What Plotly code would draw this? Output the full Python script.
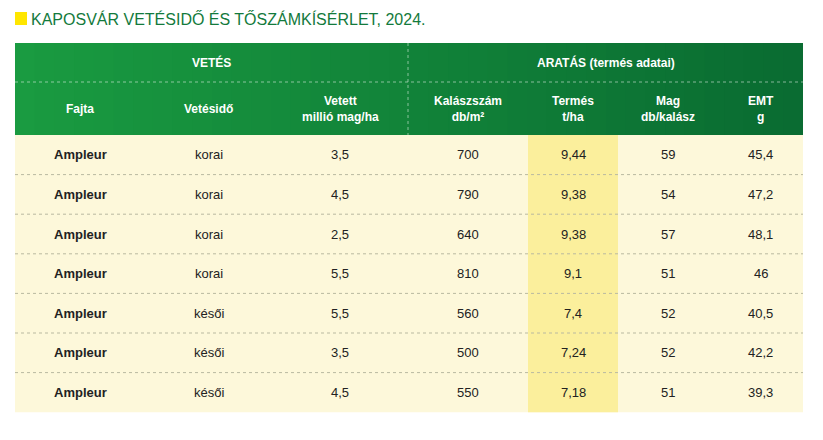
import plotly.graph_objects as go

title = "KAPOSVÁR VETÉSIDŐ ÉS TŐSZÁMKÍSÉRLET, 2024."
groups = ["VETÉS", "ARATÁS (termés adatai)"]
headers = ["Fajta", "Vetésidő", "Vetett<br>millió mag/ha", "Kalászszám<br>db/m²",
           "Termés<br>t/ha", "Mag<br>db/kalász", "EMT<br>g"]
fajta = ["Ampleur"] * 7
vetesido = ["korai", "korai", "korai", "korai", "késői", "késői", "késői"]
vetett = ["3,5", "4,5", "2,5", "5,5", "5,5", "3,5", "4,5"]
kalasz = ["700", "790", "640", "810", "560", "500", "550"]
termes = ["9,44", "9,38", "9,38", "9,1", "7,4", "7,24", "7,18"]
mag = ["59", "54", "57", "51", "52", "52", "51"]
emt = ["45,4", "47,2", "48,1", "46", "40,5", "42,2", "39,3"]

cols = [fajta, vetesido, vetett, kalasz, termes, mag, emt]
edges = [15, 145, 272, 408, 528, 618, 718, 803]
h0, h1, h2, rh = 43, 82, 135, 39.6
FONT = "Liberation Sans Narrow, Arial Narrow, sans-serif"

shapes, ann = [], []
# header gradient
n = 40
c0, c1 = (26, 155, 65), (10, 108, 50)
for i in range(n):
    t = i / (n - 1)
    col = tuple(int(c0[k] + (c1[k] - c0[k]) * t) for k in range(3))
    xa = edges[0] + (edges[-1] - edges[0]) * i / n
    xb = min(edges[-1], edges[0] + (edges[-1] - edges[0]) * (i + 1) / n + 1.5)
    shapes.append(dict(type="rect", x0=xa, x1=xb, y0=h0, y1=h2, line_width=0,
                       fillcolor=f"rgb{col}", layer="below"))
shapes.append(dict(type="line", x0=edges[0], x1=edges[-1], y0=h1, y1=h1,
                   line=dict(color="rgba(255,255,255,0.5)", width=1, dash="dot")))
shapes.append(dict(type="line", x0=408, x1=408, y0=h0, y1=h2,
                   line=dict(color="rgba(255,255,255,0.5)", width=1, dash="dot")))
# body
nrows = len(fajta)
ybot = h2 + rh * nrows
shapes.append(dict(type="rect", x0=edges[0], x1=edges[-1], y0=h2, y1=ybot,
                   line_width=0, fillcolor="#fdf8da", layer="below"))
shapes.append(dict(type="rect", x0=edges[4], x1=edges[5], y0=h2, y1=ybot,
                   line_width=0, fillcolor="#fbef9c", layer="below"))
for r in range(1, nrows):
    y = h2 + rh * r
    shapes.append(dict(type="line", x0=edges[0], x1=edges[-1], y0=y, y1=y,
                       line=dict(color="#b9b9a0", width=1, dash="dot")))

# title
shapes.append(dict(type="rect", x0=15, x1=27, y0=12, y1=25, line_width=0, fillcolor="#ffe600"))
ann.append(dict(x=29, y=19, text=title, xanchor="left", showarrow=False,
                font=dict(family=FONT, size=16, color="#137a3c")))

ann.append(dict(x=(edges[0] + edges[3]) / 2, y=(h0 + h1) / 2, text="<b>" + groups[0] + "</b>",
                showarrow=False, font=dict(family=FONT, size=12, color="white")))
ann.append(dict(x=(edges[3] + edges[-1]) / 2, y=(h0 + h1) / 2, text="<b>" + groups[1] + "</b>",
                showarrow=False, font=dict(family=FONT, size=12, color="white")))
for i, h in enumerate(headers):
    cx = (edges[i] + edges[i + 1]) / 2
    ann.append(dict(x=cx, y=(h1 + h2) / 2, text="<b>" + h + "</b>", showarrow=False,
                    font=dict(family=FONT, size=12, color="white")))
    for r, v in enumerate(cols[i]):
        txt = "<b>" + v + "</b>" if i == 0 else v
        ann.append(dict(x=cx, y=h2 + rh * (r + 0.5), text=txt, showarrow=False,
                        font=dict(family=FONT, size=13, color="#222")))

# the page shows the figure 8px in from the top-left corner; shift the view to compensate
off = 8
fig = go.Figure()
fig.update_layout(width=823, height=440, margin=dict(l=0, r=0, t=0, b=0),
                  plot_bgcolor="white", paper_bgcolor="white",
                  xaxis=dict(range=[off, 823 + off], visible=False, fixedrange=True),
                  yaxis=dict(range=[440 + off, off], visible=False, fixedrange=True),
                  shapes=shapes, annotations=ann, showlegend=False)
fig.write_html("out.html")
